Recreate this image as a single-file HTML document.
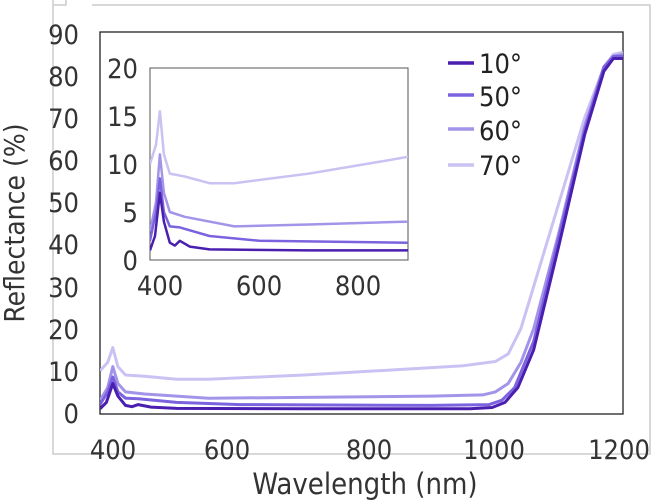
<!DOCTYPE html>
<html><head><meta charset="utf-8"><style>
body{margin:0;background:#fff}
svg{display:block;font-family:"DejaVu Sans","Liberation Sans",sans-serif;font-stretch:condensed}
</style></head><body>
<svg id="s" width="653" height="500" viewBox="0 0 653 500">
<defs><clipPath id="ic"><rect x="150" y="68" width="258" height="192"/></clipPath>
<clipPath id="mc"><rect x="100" y="32" width="523" height="382"/></clipPath></defs>
<rect width="653" height="500" fill="#fff"/>
<g stroke="#ccc" stroke-width="1.5" fill="none">
<path d="M53 0 V454 H650 V5 H92"/>
<path d="M53 5 H66 V0"/>
</g>
<rect x="100" y="32" width="523" height="382" fill="none" stroke="#222" stroke-width="1.3"/>
<g font-size="27" fill="#333" text-anchor="end">
<text x="79" y="423">0</text><text x="79" y="381">10</text><text x="79" y="339">20</text>
<text x="79" y="297">30</text><text x="79" y="254">40</text><text x="79" y="212">50</text>
<text x="79" y="170">60</text><text x="79" y="128">70</text><text x="79" y="86">80</text>
<text x="79" y="44">90</text>
</g>
<g font-size="27" fill="#333" text-anchor="middle">
<text x="113" y="459">400</text><text x="227" y="459">600</text><text x="369" y="459">800</text>
<text x="494" y="459">1000</text><text x="619" y="459">1200</text>
<text x="365" y="494" font-size="29">Wavelength (nm)</text>
</g>
<text transform="translate(24 223) rotate(-90)" font-size="28" fill="#333" text-anchor="middle">Reflectance (%)</text>
<g id="main" fill="none" stroke-width="3" stroke-linejoin="round" clip-path="url(#mc)"></g>
<rect x="150" y="68" width="258" height="192" fill="#fff" stroke="#555" stroke-width="1"/>
<g id="ins" fill="none" stroke-width="2.5" stroke-linejoin="round" clip-path="url(#ic)"></g>
<g font-size="27" fill="#333" text-anchor="end">
<text x="138" y="270">0</text><text x="138" y="222">5</text><text x="138" y="174">10</text>
<text x="138" y="126">15</text><text x="138" y="78">20</text>
</g>
<g font-size="27" fill="#333" text-anchor="middle">
<text x="160" y="295">400</text><text x="259" y="295">600</text><text x="358" y="295">800</text>
</g>
<g stroke-width="3.5">
<line x1="448" y1="63" x2="474" y2="63" stroke="#4a1fb0"/>
<line x1="448" y1="95" x2="474" y2="95" stroke="#7b63df"/>
<line x1="448" y1="129" x2="474" y2="129" stroke="#a394e9"/>
<line x1="448" y1="165" x2="474" y2="165" stroke="#cbc2f3"/>
</g>
<g font-size="27" fill="#222">
<text x="479" y="73">10°</text><text x="479" y="106">50°</text>
<text x="479" y="140">60°</text><text x="479" y="175">70°</text>
</g>
</svg>
<script>
var series=[
{c:"#cbc2f3",p:[[380,10],[392,12],[400,15.5],[408,11],[420,9],[450,8.7],[500,8],[550,8],[700,9],[850,10.3],[950,11.2],[1000,12.2],[1020,14],[1040,20],[1060,30],[1100,50],[1140,70],[1170,82],[1185,85],[1200,85.5]]},
{c:"#a394e9",p:[[380,3],[392,6],[400,11],[408,7],[420,5],[450,4.5],[550,3.5],[700,3.7],[900,4],[980,4.3],[1000,5],[1020,7],[1040,12],[1060,20],[1100,43],[1140,68],[1170,82],[1185,84.5],[1200,85]]},
{c:"#7b63df",p:[[380,2],[392,5],[400,8.5],[408,5],[420,3.5],[440,3.4],[500,2.5],[600,2],[900,1.8],[990,2],[1010,3],[1030,6],[1060,17],[1100,42],[1140,67],[1170,82],[1185,84.5],[1200,84.5]]},
{c:"#4a1fb0",p:[[380,1],[390,2.5],[400,7],[408,4],[420,1.8],[430,1.5],[440,2],[460,1.4],[500,1.1],[700,1],[960,1],[995,1.3],[1015,2.5],[1035,6],[1060,15],[1100,40],[1140,66],[1170,81],[1185,84],[1200,84]]}];
function mk(g,fx,fy){series.forEach(function(s){var d="";s.p.forEach(function(q,i){d+=(i?"L":"M")+fx(q[0]).toFixed(1)+" "+fy(q[1]).toFixed(1);});
var e=document.createElementNS("http://www.w3.org/2000/svg","path");e.setAttribute("d",d);e.setAttribute("stroke",s.c);g.appendChild(e);});}
mk(document.getElementById("main"),function(x){return 100+(x-380)*0.6378},function(v){return 413-v*4.22});
mk(document.getElementById("ins"),function(x){return 150+(x-380)*0.4962},function(v){return 260-v*9.6});
</script>
</body></html>
